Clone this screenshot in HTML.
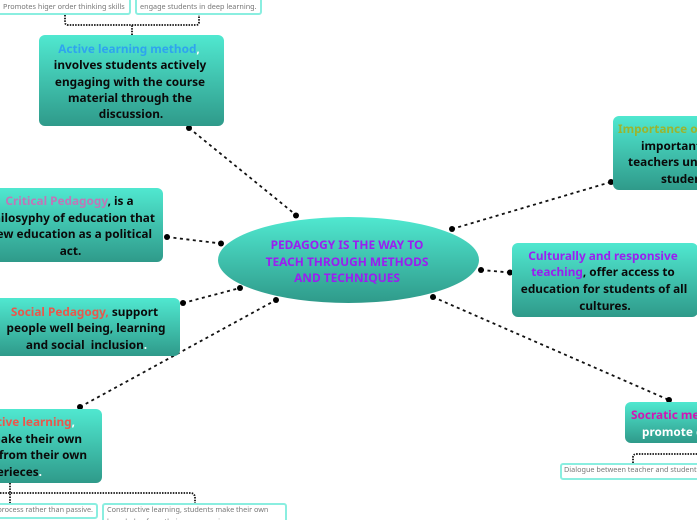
<!DOCTYPE html>
<html><head><meta charset="utf-8">
<style>
html,body{margin:0;padding:0;background:#fff}
#p{position:relative;width:697px;height:520px;overflow:hidden;background:#fff;font-family:"Noto Sans","Open Sans","DejaVu Sans","Liberation Sans",sans-serif}
.b{position:absolute;background:linear-gradient(#50e8d0,#2f9a8a);border-radius:6px}
.e{position:absolute;left:218px;top:217px;width:261px;height:86px;border-radius:50%;background:linear-gradient(#50e8d0,#2f9a8a)}
.t{position:absolute;transform:translate(-50%,-50%);white-space:nowrap;font-weight:700;font-size:11.8px;line-height:16px;color:#0a0a0a}
.t.l{transform:translate(0,-50%)}
.t.r{transform:translate(-100%,-50%)}
.s{position:absolute;background:#fff;border:2px solid #8aeee0;border-radius:3px;box-sizing:border-box}
.m{position:absolute;white-space:nowrap;font-size:7.25px;line-height:11.5px;color:#777}
svg{position:absolute;left:0;top:0}
</style></head><body><div id="p">
<svg width="697" height="520" fill="none" stroke="#111">
<g stroke-width="1.8" stroke-dasharray="3 3.5">
<line x1="189" y1="128" x2="296" y2="215"/>
<line x1="167" y1="237" x2="221" y2="243.5"/>
<line x1="183" y1="303" x2="240" y2="288"/>
<line x1="80" y1="407" x2="276" y2="300"/>
<line x1="452" y1="229" x2="611" y2="182"/>
<line x1="481" y1="270" x2="510" y2="272.5"/>
<line x1="433" y1="297" x2="669" y2="400"/>
</g>
<g stroke-width="1.8" stroke-dasharray="1.5 1.2">
<path d="M132 35V25M65 15V22Q65 25 68 25H196Q199 25 199 22V15"/>
<path d="M10 483V503M0 493H190Q195 493 195 498V503"/>
<path d="M633 463V457Q633 454 637 454H697M717 443V454"/>
</g>
<g fill="#000" stroke="none">
<circle cx="189" cy="128" r="3"/><circle cx="296" cy="215.5" r="3"/>
<circle cx="167" cy="237" r="3"/><circle cx="221" cy="243.5" r="3"/>
<circle cx="183" cy="303" r="3"/><circle cx="240" cy="288" r="3"/>
<circle cx="80" cy="407" r="3"/><circle cx="276" cy="300" r="3"/>
<circle cx="452" cy="229" r="3"/><circle cx="611" cy="182" r="3"/>
<circle cx="481" cy="270" r="3"/><circle cx="510" cy="272.5" r="3"/>
<circle cx="433" cy="297" r="3"/><circle cx="669" cy="400" r="3"/>
</g>
</svg>

<div class="e"></div>
<div class="t" style="left:347px;top:245px;color:#9a1ff0;font-size:11.9px">PEDAGOGY IS THE WAY TO</div>
<div class="t" style="left:347px;top:262px;color:#9a1ff0;font-size:11.9px">TEACH THROUGH METHODS</div>
<div class="t" style="left:347px;top:278px;color:#9a1ff0;font-size:11.9px">AND TECHNIQUES</div>

<div class="s" style="left:-20px;top:-6px;width:151px;height:21px"></div>
<div class="m" style="left:3px;top:1.5px">Promotes higer order thinking skills</div>
<div class="s" style="left:135px;top:-6px;width:127px;height:21px"></div>
<div class="m" style="left:140px;top:1.5px">engage students in deep learning.</div>

<div class="b" style="left:39px;top:35px;width:185px;height:91px"></div>
<div class="t" style="left:129px;top:49px;color:#2fa4ee">Active learning method<span style="color:#fff">,</span></div>
<div class="t" style="left:130px;top:65px">involves students actively</div>
<div class="t" style="left:130px;top:82px">engaging with the course</div>
<div class="t" style="left:130px;top:98px">material through the</div>
<div class="t" style="left:131px;top:114px">discussion.</div>

<div class="b" style="left:-22px;top:188px;width:185px;height:74px"></div>
<div class="t" style="left:69.5px;top:201px"><span style="color:#c076b8">Critical Pedagogy</span>, is a</div>
<div class="t r" style="left:155px;top:218px">philosyphy of education that</div>
<div class="t r" style="left:152px;top:234px">view education as a political</div>
<div class="t" style="left:70.5px;top:251px">act.</div>

<div class="b" style="left:-8px;top:298px;width:188px;height:58px"></div>
<div class="t" style="left:84.5px;top:312px"><span style="color:#e8584c">Social Pedagogy,</span> support</div>
<div class="t" style="left:86px;top:328px">people well being, learning</div>
<div class="t" style="left:86.5px;top:345px">and social&nbsp; inclusion<span style="color:#fff">.</span></div>

<div class="b" style="left:-83px;top:409px;width:185px;height:74px"></div>
<div class="t r" style="left:75px;top:422px;color:#e8584c">Constructive learning<span style="color:#fff">,</span></div>
<div class="t r" style="left:82px;top:439px">students make their own</div>
<div class="t r" style="left:87px;top:455px">knowledge from their own</div>
<div class="t r" style="left:42px;top:472px">experieces<span style="color:#fff">.</span></div>

<div class="s" style="left:-40px;top:503px;width:138px;height:16px"></div>
<div class="m" style="left:93px;top:505.25px;transform:translateX(-100%)">process rather than passive.</div>
<div class="s" style="left:102px;top:503px;width:185px;height:30px"></div>
<div class="m" style="left:107px;top:505.25px">Constructive learning, students make their own<br>knowledge from their own experience.</div>

<div class="b" style="left:613px;top:116px;width:185px;height:74px"></div>
<div class="t l" style="left:618px;top:129px;color:#9ab52f">Importance of pedagogy</div>
<div class="t l" style="left:641px;top:146px">important to help</div>
<div class="t l" style="left:628px;top:162px">teachers understand their</div>
<div class="t l" style="left:661px;top:179px">students.</div>

<div class="b" style="left:512px;top:243px;width:186px;height:74px"></div>
<div class="t" style="left:603px;top:256px;color:#9a1ff0">Culturally and responsive</div>
<div class="t" style="left:603px;top:272px"><span style="color:#9a1ff0">teaching</span>, offer access to</div>
<div class="t" style="left:604px;top:289px">education for students of all</div>
<div class="t" style="left:605px;top:306px">cultures.</div>

<div class="b" style="left:625px;top:402px;width:185px;height:41px"></div>
<div class="t l" style="left:631px;top:415px;color:#d215b4">Socratic method</div>
<div class="t l" style="left:642px;top:432px;color:#fff">promote critical</div>

<div class="s" style="left:560px;top:463px;width:220px;height:17px"></div>
<div class="m" style="left:564px;top:465.25px">Dialogue between teacher and students</div>
</div></body></html>
